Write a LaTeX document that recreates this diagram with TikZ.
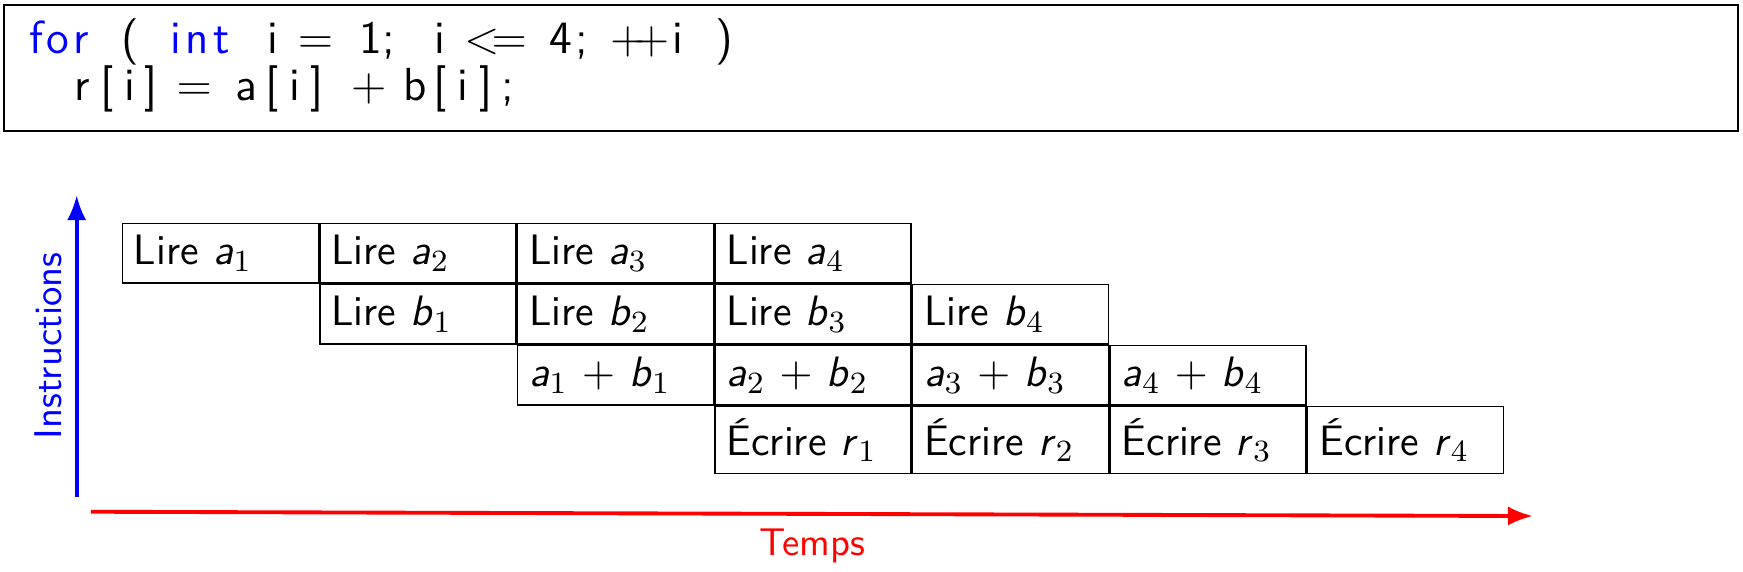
\documentclass[tikz,border=0pt]{standalone}
\usepackage{xcolor}
\usepackage{tikz}
\usetikzlibrary{positioning,arrows.meta}

\tikzset{
  tache/.style={draw, text width=44.7pt, inner xsep=3pt, inner ysep=3.05pt, align=left,
    font=\fontsize{11}{13}\selectfont\sffamily},
  ligne/.style={anchor=base west, inner sep=0pt, font=\fontsize{12}{14}\selectfont\sffamily},
  axe/.style={line width=1pt, -{Latex[length=6.5pt,width=5pt]}}
}
\newcommand{\vx}[2]{\textit{#1}$_{#2}$}
\newcommand{\kw}[1]{\textcolor{blue}{#1}}
\newcommand{\cpos}[2]{\makebox[0pt][l]{\hspace*{#1cm}\makebox[0pt]{#2}}}

\begin{document}
\begin{tikzpicture}
        \useasboundingbox (0,0) rectangle (15.845,5.191);

        % le code
        \node[draw, semithick, anchor=north west, inner sep=0pt, minimum width=15.763cm, minimum height=1.146cm] (cadre) at (0.027,5.155) {};
        \node[ligne] (ligne1) at (0,4.709) {\cpos{0.309}{\kw{f}}\cpos{0.505}{\kw{o}}\cpos{0.714}{\kw{r}}\cpos{1.159}{(}%
          \cpos{1.573}{\kw{i}}\cpos{1.768}{\kw{n}}\cpos{1.995}{\kw{t}}\cpos{2.459}{i}\cpos{2.845}{$=$}%
          \cpos{3.350}{1}\cpos{3.511}{;}\cpos{3.977}{i}\cpos{4.48}{$<$\kern-2pt$=$}\cpos{5.077}{4}\cpos{5.265}{;}%
          \cpos{5.79}{$+$\kern-3pt$+$}\cpos{6.141}{i}\cpos{6.564}{)}};
        \node[ligne] (ligne2) at (0,4.282) {\cpos{0.727}{r}\cpos{0.945}{[}\cpos{1.159}{i}\cpos{1.345}{]}\cpos{1.741}{$=$}%
          \cpos{2.218}{a}\cpos{2.452}{[}\cpos{2.657}{i}\cpos{2.854}{]}\cpos{3.327}{$+$}%
          \cpos{3.75}{b}\cpos{3.98}{[}\cpos{4.185}{i}\cpos{4.398}{]}\cpos{4.594}{;}};

        % les etapes
        \node[tache, anchor=north west] (la1) at (1.105,3.166) {Lire \vx{a}{1}};
        \node[tache, right=0pt of la1] (la2) {Lire \vx{a}{2}};
        \node[tache, right=0pt of la2] (la3) {Lire \vx{a}{3}};
        \node[tache, right=0pt of la3] (la4) {Lire \vx{a}{4}};

        \node[tache, below=0pt of la2] (lb1) {Lire \vx{b}{1}};
        \node[tache, right=0pt of lb1] (lb2) {Lire \vx{b}{2}};
        \node[tache, right=0pt of lb2] (lb3) {Lire \vx{b}{3}};
        \node[tache, right=0pt of lb3] (lb4) {Lire \vx{b}{4}};

        \node[tache, below=0pt of lb2] (s1) {\vx{a}{1} $+$ \vx{b}{1}};
        \node[tache, right=0pt of s1] (s2) {\vx{a}{2} $+$ \vx{b}{2}};
        \node[tache, right=0pt of s2] (s3) {\vx{a}{3} $+$ \vx{b}{3}};
        \node[tache, right=0pt of s3] (s4) {\vx{a}{4} $+$ \vx{b}{4}};

        \node[tache, below=0pt of s2] (er1) {Écrire \vx{r}{1}};
        \node[tache, right=0pt of er1] (er2) {Écrire \vx{r}{2}};
        \node[tache, right=0pt of er2] (er3) {Écrire \vx{r}{3}};
        \node[tache, right=0pt of er3] (er4) {Écrire \vx{r}{4}};

        % les axes
        \coordinate (ibas) at (0.697,0.675);
        \coordinate (ihaut) at (0.697,3.418);
        \draw[axe, blue] (ibas) -- node[sloped, above, font=\sffamily] (linstr) {Instructions} (ihaut);

        \coordinate (tdeb) at (0.827,0.539);
        \coordinate (tfin) at (13.936,0.5);
        \draw[axe, red] (tdeb) -- node[below, font=\sffamily] (ltemps) {Temps} (tfin);
\end{tikzpicture}
\end{document}
